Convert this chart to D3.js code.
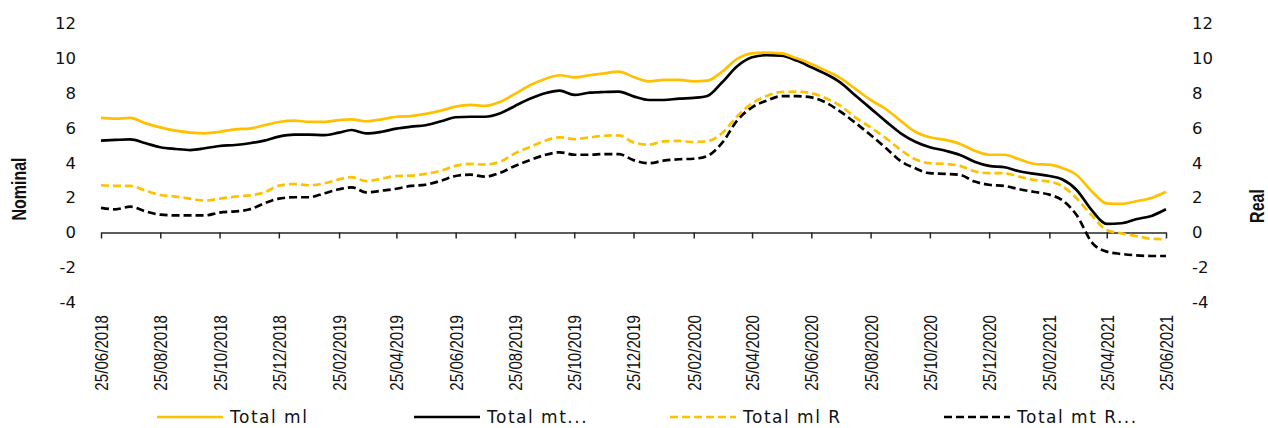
<!DOCTYPE html>
<html>
<head>
<meta charset="utf-8">
<script src="https://cdn.jsdelivr.net/npm/d3@7"></script>
<style>
	body { margin: 0; background: #fff; }
	svg { display: block; }
	.tick-lbl { font-family: "DejaVu Sans", Verdana, sans-serif; font-size: 16.5px; fill: #111; }
	.date-lbl { font-family: "Liberation Sans", Arial, sans-serif; font-size: 18px; fill: #111; }
	.axis-title { font-family: "Liberation Sans", Arial, sans-serif; font-weight: bold; font-size: 19.5px; fill: #111; }
	.legend-lbl { font-family: "DejaVu Sans", Verdana, sans-serif; font-size: 17px; letter-spacing: 1.5px; fill: #111; }
</style>
</head>
<body>
<svg id="chart" width="1268" height="428"></svg>
<script>
var dates = [
	"2018-06-25","2018-07-10","2018-07-25","2018-08-10","2018-08-25","2018-09-10","2018-09-25","2018-10-10","2018-10-25","2018-11-10","2018-11-25","2018-12-10","2018-12-25",
	"2019-01-10","2019-01-25","2019-02-10","2019-02-25","2019-03-10","2019-03-25","2019-04-10","2019-04-25","2019-05-10","2019-05-25","2019-06-10","2019-06-25",
	"2019-07-10","2019-07-25","2019-08-10","2019-08-25","2019-09-10","2019-09-25","2019-10-10","2019-10-25","2019-11-10","2019-11-25","2019-12-10","2019-12-25",
	"2020-01-10","2020-01-25","2020-02-10","2020-02-25","2020-03-10","2020-03-25","2020-04-10","2020-04-25","2020-05-10","2020-05-25","2020-06-10","2020-06-25",
	"2020-07-10","2020-07-25","2020-08-10","2020-08-25","2020-09-10","2020-09-25","2020-10-10","2020-10-25","2020-11-10","2020-11-25","2020-12-10","2020-12-25",
	"2021-01-10","2021-01-25","2021-02-10","2021-02-25","2021-03-10","2021-03-25","2021-04-10","2021-04-25","2021-05-10","2021-05-25","2021-06-10","2021-06-25"
];

var totalMl = [
	6.57, 6.53, 6.57, 6.26, 6.03, 5.84, 5.73, 5.69, 5.77, 5.92, 5.96, 6.15, 6.34,
	6.42, 6.34, 6.34, 6.45, 6.49, 6.38, 6.49, 6.64, 6.68, 6.80, 6.99, 7.22,
	7.32, 7.26, 7.50, 7.95, 8.46, 8.81, 9.02, 8.90, 9.02, 9.13, 9.23, 8.92,
	8.67, 8.75, 8.75, 8.67, 8.71, 9.21, 9.97, 10.28, 10.32, 10.28, 9.99, 9.67,
	9.28, 8.85, 8.21, 7.60, 7.07, 6.40, 5.78, 5.46, 5.31, 5.08, 4.69, 4.46,
	4.46, 4.20, 3.93, 3.89, 3.70, 3.30, 2.34, 1.67, 1.64, 1.79, 1.98, 2.34
];

var totalMt = [
	5.27, 5.31, 5.34, 5.12, 4.89, 4.79, 4.73, 4.83, 4.96, 5.02, 5.12, 5.27, 5.50,
	5.61, 5.61, 5.59, 5.73, 5.88, 5.68, 5.78, 5.96, 6.07, 6.15, 6.38, 6.61,
	6.64, 6.64, 6.84, 7.26, 7.68, 7.99, 8.14, 7.89, 8.02, 8.06, 8.08, 7.81,
	7.60, 7.60, 7.68, 7.72, 7.83, 8.60, 9.55, 10.05, 10.17, 10.15, 9.86, 9.48,
	9.09, 8.60, 7.83, 7.12, 6.36, 5.69, 5.21, 4.89, 4.69, 4.45, 4.06, 3.82,
	3.74, 3.51, 3.36, 3.24, 3.05, 2.44, 1.25, 0.49, 0.53, 0.76, 0.95, 1.33
];

var totalMlR = [
	2.71, 2.67, 2.67, 2.40, 2.15, 2.06, 1.94, 1.83, 1.94, 2.06, 2.13, 2.30, 2.69,
	2.78, 2.71, 2.82, 3.05, 3.17, 2.95, 3.09, 3.24, 3.26, 3.36, 3.55, 3.82,
	3.93, 3.90, 4.06, 4.54, 4.92, 5.27, 5.46, 5.36, 5.46, 5.55, 5.57, 5.17,
	5.04, 5.23, 5.25, 5.19, 5.23, 5.69, 6.68, 7.41, 7.83, 8.06, 8.08, 7.99,
	7.70, 7.26, 6.57, 6.03, 5.40, 4.74, 4.20, 3.97, 3.93, 3.82, 3.51, 3.40,
	3.40, 3.20, 3.01, 2.92, 2.67, 1.96, 0.95, 0.14, -0.05, -0.20, -0.36, -0.38
];

var totalMtR = [
	1.41, 1.33, 1.48, 1.21, 1.02, 0.98, 0.98, 0.98, 1.14, 1.21, 1.33, 1.67, 1.94,
	2.02, 2.02, 2.25, 2.48, 2.59, 2.30, 2.40, 2.51, 2.67, 2.74, 2.97, 3.24,
	3.32, 3.20, 3.43, 3.82, 4.16, 4.45, 4.60, 4.46, 4.46, 4.50, 4.50, 4.15,
	3.97, 4.12, 4.20, 4.23, 4.39, 5.12, 6.45, 7.18, 7.56, 7.82, 7.82, 7.75,
	7.45, 6.93, 6.26, 5.59, 4.83, 4.09, 3.68, 3.40, 3.36, 3.30, 2.92, 2.74,
	2.67, 2.48, 2.32, 2.17, 1.86, 1.00, -0.59, -1.10, -1.23, -1.31, -1.35, -1.35
];

var seriesNames = ["Total ml", "Total mt...", "Total ml R", "Total mt R..."];
var seriesColors = ["#FFC000", "#000000", "#FFC000", "#000000"];
var seriesDashed = [false, false, true, true];

var tickDates = [
	"2018-06-25","2018-08-25","2018-10-25","2018-12-25","2019-02-25","2019-04-25","2019-06-25",
	"2019-08-25","2019-10-25","2019-12-25","2020-02-25","2020-04-25","2020-06-25","2020-08-25",
	"2020-10-25","2020-12-25","2021-02-25","2021-04-25","2021-06-25"
];
var yTicks = [-4, -2, 0, 2, 4, 6, 8, 10, 12];

var PLOT = { left: 101, right: 1166, top: 23.3, bottom: 302.2 };
var parse = d3.utcParse("%Y-%m-%d");
var plainNum = function(d) { return String(d); };  // hyphen minus, like the original

var svg = d3.select("#chart");

var x = d3.scaleUtc()
	.domain([parse(dates[0]), parse(dates[dates.length - 1])])
	.range([PLOT.left, PLOT.right]);

var y = d3.scaleLinear()
	.domain([-4, 12])
	.range([PLOT.bottom, PLOT.top]);

// same scale on both sides
var yRight = y.copy();

var leftAxis = svg.append("g")
	.attr("transform", "translate(" + (PLOT.left - 18) + ",0)")
	.call(d3.axisLeft(y).tickValues(yTicks).tickSize(0).tickPadding(7).tickFormat(plainNum));
leftAxis.select(".domain").remove();
leftAxis.selectAll("text").attr("class", "tick-lbl");

var rightAxis = svg.append("g")
	.attr("transform", "translate(" + (PLOT.right + 19) + ",0)")
	.call(d3.axisRight(yRight).tickValues(yTicks).tickSize(0).tickPadding(7).tickFormat(plainNum));
rightAxis.select(".domain").remove();
rightAxis.selectAll("text").attr("class", "tick-lbl");

// x axis sits on zero, labels at the bottom
var y0 = y(0);
var xAxis = svg.append("g")
	.attr("transform", "translate(0," + y0 + ")")
	.call(d3.axisBottom(x)
		.tickValues(tickDates.map(parse))
		.tickSize(6)
		.tickSizeOuter(0)
		.tickFormat(d3.utcFormat("%d/%m/%Y")));
xAxis.select(".domain").attr("stroke", "#262626").attr("stroke-width", 1.5);
xAxis.selectAll(".tick line").attr("stroke", "#262626").attr("stroke-width", 1.5);
xAxis.selectAll(".tick text")
	.attr("class", "date-lbl")
	.attr("text-anchor", "end")
	.attr("x", 0)
	.attr("y", 0)
	.attr("dy", "0.36em")
	.attr("transform", "translate(0," + (315 - y0) + ") rotate(-90) scale(0.84,1)");

// lines
var allSeries = [totalMl, totalMt, totalMlR, totalMtR];
var parsedDates = dates.map(parse);

var line = d3.line()
	.x(function(d) { return x(d.date); })
	.y(function(d) { return y(d.value); })
	.curve(d3.curveMonotoneX);

// dashed first so the solid ones sit on top
var drawOrder = [3, 2, 1, 0];
drawOrder.forEach(function(i) {
	var pts = allSeries[i].map(function(v, j) { return { date: parsedDates[j], value: v }; });
	svg.append("path")
		.datum(pts)
		.attr("fill", "none")
		.attr("stroke", seriesColors[i])
		.attr("stroke-width", 2.7)
		.attr("stroke-dasharray", seriesDashed[i] ? "8,4" : null)
		.attr("stroke-linejoin", "round")
		.attr("d", line);
});

// axis titles
svg.append("text")
	.attr("class", "axis-title")
	.attr("text-anchor", "middle")
	.attr("transform", "translate(26,189) rotate(-90) scale(0.82,1)")
	.text("Nominal");

svg.append("text")
	.attr("class", "axis-title")
	.attr("text-anchor", "middle")
	.attr("transform", "translate(1264,206) rotate(-90) scale(0.82,1)")
	.text("Real");

// legend
var legendX = [157, 414, 670, 944];
var legend = svg.append("g").attr("transform", "translate(0,417)");
seriesNames.forEach(function(name, i) {
	legend.append("line")
		.attr("x1", legendX[i])
		.attr("x2", legendX[i] + 66)
		.attr("y1", 0)
		.attr("y2", 0)
		.attr("stroke", seriesColors[i])
		.attr("stroke-width", 2.7)
		.attr("stroke-dasharray", seriesDashed[i] ? "8,4" : null);
	legend.append("text")
		.attr("class", "legend-lbl")
		.attr("x", legendX[i] + 73)
		.attr("y", 0)
		.attr("dy", "0.36em")
		.text(name);
});
</script>
</body>
</html>
